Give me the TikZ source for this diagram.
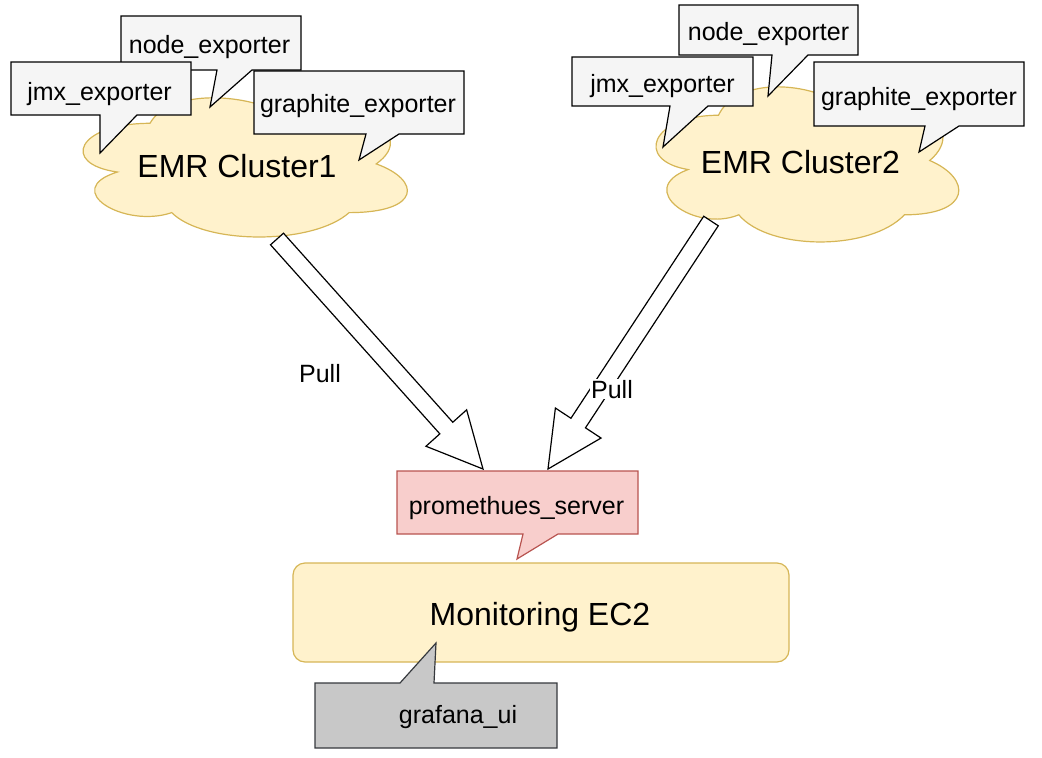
\documentclass[tikz,border=0pt]{standalone}
\usepackage{fontspec}
\setmainfont{Liberation Sans}
\usetikzlibrary{calc}

\definecolor{cloudfill}{HTML}{FFF2CC}
\definecolor{clouddraw}{HTML}{D6B656}
\definecolor{calloutfill}{HTML}{F5F5F5}
\definecolor{promfill}{HTML}{F8CECC}
\definecolor{promdraw}{HTML}{B85450}
\definecolor{grafanafill}{HTML}{C8C8C8}
\definecolor{grafanadraw}{HTML}{36393D}

\tikzset{
  cloudline/.style={draw=clouddraw, fill=cloudfill, line width=1.2pt},
  callout/.style={draw=black, fill=calloutfill, line width=1.2pt, line join=miter},
  lbl/.style={anchor=base, inner sep=0pt, font=\fontsize{25}{30}\selectfont},
  biglbl/.style={anchor=base, inner sep=0pt, font=\fontsize{32}{38}\selectfont},
  blockarrow/.style={draw=black, fill=white, line width=1.2pt, line join=miter},
}

% drawio-like cloud: corner x, corner y, width, height
\newcommand{\emrcloud}[4]{%
  \draw[cloudline, shift={(#1,#2)}, xscale=#3, yscale=#4]
    (0.25,0.25) .. controls (0.05,0.25) and (0,0.5) .. (0.16,0.55)
    .. controls (0,0.66) and (0.18,0.9) .. (0.31,0.8)
    .. controls (0.4,1) and (0.7,1) .. (0.8,0.8)
    .. controls (1,0.8) and (1,0.6) .. (0.875,0.5)
    .. controls (1,0.3) and (0.8,0.1) .. (0.625,0.2)
    .. controls (0.5,0.05) and (0.3,0.05) .. (0.25,0.25) -- cycle;
}

% hollow block arrow from #1 to #2
\newcommand{\pullarrow}[2]{%
  \coordinate (#1h) at ($(#2)!55pt!(#1)$);
  \draw[blockarrow] ($(#1)!8.7pt!90:(#2)$) -- ($(#1h)!8.7pt!90:(#2)$)
    -- ($(#1h)!27.3pt!90:(#2)$) -- (#2) -- ($(#1h)!27.3pt!-90:(#2)$)
    -- ($(#1h)!8.7pt!-90:(#2)$) -- ($(#1)!8.7pt!-90:(#2)$) -- cycle;
}

\begin{document}
\begin{tikzpicture}[x=1pt, y=-1pt]
            \useasboundingbox (0,0) rectangle (1042,758);

            % clusters
            \emrcloud{59.5}{82.7}{362}{162.4}
            \emrcloud{634}{70}{338}{181}

            % exporters of cluster 1
            \draw[callout] (121,16) -- (301,16) -- (301,70) -- (252,70) -- (210,107) -- (217,70) -- (121,70) -- cycle;
            \draw[callout] (11,62) -- (191,62) -- (191,115) -- (137,115) -- (100,153) -- (100,115) -- (11,115) -- cycle;
            \draw[callout] (254,71) -- (464,71) -- (464,134) -- (399,134) -- (359,160) -- (366,134) -- (254,134) -- cycle;
            \node[lbl] (node1) at (209.5,53) {node\_exporter};
            \node[lbl] (jmx1) at (99.5,100) {jmx\_exporter};
            \node[lbl] (graphite1) at (358,112) {graphite\_exporter};
            \node[biglbl] (cl1) at (237,177) {EMR Cluster1};

            % exporters of cluster 2
            \draw[callout] (679,5) -- (858,5) -- (858,55) -- (808,55) -- (768,96) -- (772,55) -- (679,55) -- cycle;
            \draw[callout] (572,57) -- (753,57) -- (753,106) -- (708,106) -- (663,147) -- (670,106) -- (572,106) -- cycle;
            \draw[callout] (814,62) -- (1024,62) -- (1024,126) -- (959,126) -- (919,152) -- (925,126) -- (814,126) -- cycle;
            \node[lbl] (node2) at (768.5,40) {node\_exporter};
            \node[lbl] (jmx2) at (662.5,92) {jmx\_exporter};
            \node[lbl] (graphite2) at (919,105) {graphite\_exporter};
            \node[biglbl] (cl2) at (800.5,173) {EMR Cluster2};

            % monitoring host
            \draw[draw=clouddraw, fill=cloudfill, line width=1.2pt, rounded corners=12pt] (293,563) rectangle (789,662);
            \node[biglbl] (ec2) at (540,625) {Monitoring EC2};
            \draw[callout, draw=promdraw, fill=promfill] (397,471) -- (638,471) -- (638,534) -- (558,534) -- (517,559) -- (523,534) -- (397,534) -- cycle;
            \node[lbl] (prom) at (516.5,514) {promethues\_server};
            \draw[callout, draw=grafanadraw, fill=grafanafill] (315,683) -- (400,683) -- (436,643) -- (434,683) -- (557,683) -- (557,748) -- (315,748) -- cycle;
            \node[lbl] (grafana) at (458,723) {grafana\_ui};

            % pull arrows
            \coordinate (tail1) at (277,239);
            \coordinate (tip1) at (483,469);
            \coordinate (tail2) at (711,221);
            \coordinate (tip2) at (548,469);
            \pullarrow{tail1}{tip1}
            \pullarrow{tail2}{tip2}
            \node[lbl] (pull1) at (320,382) {Pull};
            \node[lbl, fill=white, inner sep=1pt] (pull2) at (612,398) {Pull};
        \end{tikzpicture}
\end{document}
